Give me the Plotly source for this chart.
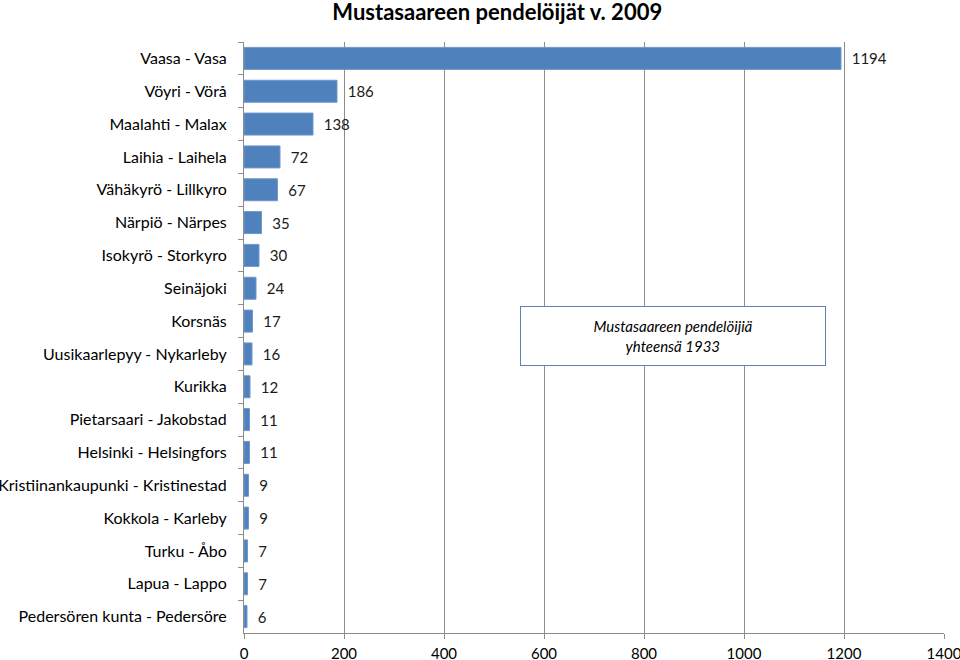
import plotly.graph_objects as go

categories = [
    "Vaasa - Vasa", "Vöyri - Vörå", "Maalahti - Malax", "Laihia - Laihela",
    "Vähäkyrö - Lillkyro", "Närpiö - Närpes", "Isokyrö - Storkyro", "Seinäjoki",
    "Korsnäs", "Uusikaarlepyy - Nykarleby", "Kurikka", "Pietarsaari - Jakobstad",
    "Helsinki - Helsingfors", "Kristiinankaupunki - Kristinestad", "Kokkola - Karleby",
    "Turku - Åbo", "Lapua - Lappo", "Pedersören kunta - Pedersöre",
]
values = [1194, 186, 138, 72, 67, 35, 30, 24, 17, 16, 12, 11, 11, 9, 9, 7, 7, 6]
x_ticks = [0, 200, 400, 600, 800, 1000, 1200, 1400]
title = "Mustasaareen pendelöijät v. 2009"
note = "<i>Mustasaareen pendelöijiä<br>yhteensä 1933</i>"

FONT = "Lato"

fig = go.Figure(go.Bar(
    x=values, y=categories, orientation="h",
    marker=dict(color="#4F81BD", line=dict(color="#6F98CC", width=1)),
    width=0.67,
    text=["  " + str(v) for v in values],
    textposition="outside", cliponaxis=False,
    textfont=dict(family=FONT, size=15, color="#1a1a1a"),
))

fig.update_layout(
    width=960, height=660,
    margin=dict(l=244, r=16, t=42, b=27),
    plot_bgcolor="white", paper_bgcolor="white",
    showlegend=False,
    title=dict(text="<b>" + title + "</b>", x=0.518, xanchor="center", y=0.981, yanchor="middle",
               font=dict(family=FONT, size=22, color="black")),
    xaxis=dict(range=[0, 1400], tickvals=x_ticks, showgrid=True, gridcolor="#8c8c8c", gridwidth=1,
               showline=True, linecolor="#8c8c8c", ticks="outside", ticklen=5, tickcolor="#8c8c8c",
               ticklabelstandoff=2, ticklabeloverflow="allow",
               tickfont=dict(family=FONT, size=15, color="black"), zeroline=False, automargin=False),
    yaxis=dict(autorange="reversed", showline=True, linecolor="#8c8c8c", ticks="outside",
               tickson="boundaries", ticklen=5, tickcolor="#8c8c8c", ticklabelstandoff=13,
               tickfont=dict(family=FONT, size=16, color="black"), automargin=False),
    font=dict(family=FONT),
    bargap=0.33,
)

fig.add_annotation(
    x=858, xref="x", y=0.5025, yref="paper", text=note, showarrow=False,
    width=300, height=54, align="center", borderpad=2,
    bordercolor="#5B83B5", borderwidth=1, bgcolor="white",
    font=dict(family=FONT, size=15, color="black"),
)

fig.write_html("out.html", config={"displayModeBar": False},
               post_script="document.body.style.margin='0px';document.body.style.overflow='hidden';")
